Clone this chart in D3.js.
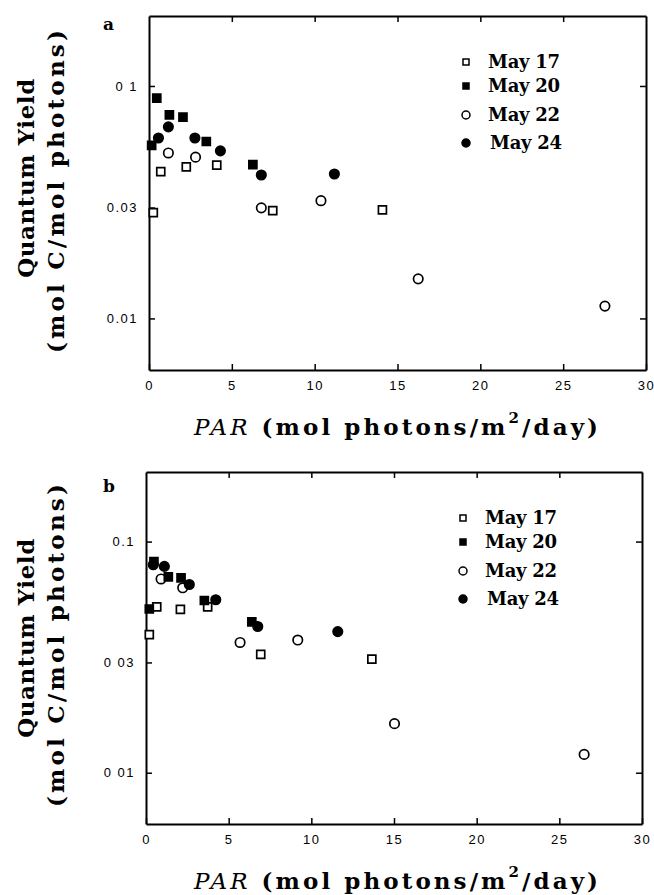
<!DOCTYPE html>
<html lang="en">
  <head>
    <meta charset="UTF-8" />
    <title>Quantum Yield vs PAR</title>
  </head>
  <style type="text/css">
    body {
      margin: 0;
      background: #fff;
    }
    .tick text {
      font-family: 'Liberation Sans', Arial, sans-serif;
      font-size: 13px;
      letter-spacing: 1.5px;
      fill: #000;
    }
    .serif {
      font-family: 'DejaVu Serif', serif;
      font-weight: bold;
      fill: #000;
    }
  </style>

  <script src="https://d3js.org/d3.v7.min.js"></script>

  <body>
    <div class="d3Chart"></div>
  </body>
  <script type="text/javascript">
    // 数据
    var dates = ['May 17', 'May 20', 'May 22', 'May 24']
    var xTicks = [0, 5, 10, 15, 20, 25, 30]
    var yTicks = [0.1, 0.03, 0.01]
    var yTickLabelsA = ['0 1', '0.03', '0.01']
    var yTickLabelsB = ['0.1', '0 03', '0 01']

    // panel a
    var may17A_par = [0.26, 0.71, 2.25, 4.09, 7.47, 14.09]
    var may17A_qy = [0.0285, 0.0428, 0.0449, 0.0457, 0.0291, 0.0293]
    var may20A_par = [0.16, 0.47, 1.23, 2.05, 3.46, 6.27]
    var may20A_qy = [0.0555, 0.0886, 0.0751, 0.0734, 0.0577, 0.0459]
    var may22A_par = [1.17, 2.81, 6.78, 10.38, 16.25, 27.52]
    var may22A_qy = [0.0515, 0.0494, 0.0299, 0.0321, 0.0148, 0.0113]
    var may24A_par = [0.57, 1.17, 2.77, 4.31, 6.78, 11.19]
    var may24A_qy = [0.0597, 0.0667, 0.0597, 0.0526, 0.0414, 0.0418]

    // panel b
    var may17B_par = [0.2, 0.65, 2.08, 3.73, 6.94, 13.66]
    var may17B_qy = [0.0396, 0.0522, 0.0509, 0.0522, 0.0325, 0.031]
    var may20B_par = [0.2, 0.48, 1.35, 2.12, 3.53, 6.4]
    var may20B_qy = [0.0511, 0.082, 0.0703, 0.0696, 0.0556, 0.0449]
    var may22B_par = [0.91, 2.22, 5.69, 9.18, 15.03, 26.5]
    var may22B_qy = [0.0689, 0.0631, 0.0366, 0.0375, 0.0163, 0.012]
    var may24B_par = [0.44, 1.11, 2.62, 4.22, 6.76, 11.6]
    var may24B_qy = [0.0794, 0.0781, 0.0652, 0.056, 0.0429, 0.0408]

    // marker style per date: [symbol, filled]
    var markers = [
      [d3.symbolSquare, false],
      [d3.symbolSquare, true],
      [d3.symbolCircle, false],
      [d3.symbolCircle, true]
    ]
    var drawOrder = [0, 2, 1, 3]

    var width = 654
    var height = 895
    var svg = d3.select('.d3Chart').append('svg').attr('width', width).attr('height', height)

    // stretch text to a given width with letter-spacing
    function fit(text, w) {
      var node = text.node()
      var len = node.getComputedTextLength()
      var n = node.textContent.length
      text.attr('letter-spacing', (w - len) / (n - 1))
    }

    function drawPanel(p) {
      var x = d3.scaleLinear().domain([0, 30]).range([p.left, p.right])
      var y = d3.scaleLog().domain([0.006, 0.2]).range([p.bottom, p.top])
      var g = svg.append('g')

      // 坐标轴
      var axB = g
        .append('g')
        .attr('transform', 'translate(0,' + p.bottom + ')')
        .call(d3.axisBottom(x).tickValues(xTicks).tickSize(-6).tickSizeOuter(0).tickPadding(11))
      var axT = g
        .append('g')
        .attr('transform', 'translate(0,' + p.top + ')')
        .call(d3.axisTop(x).tickValues(xTicks.slice(1, -1)).tickSize(-6).tickSizeOuter(0).tickFormat(''))
      var axL = g
        .append('g')
        .attr('transform', 'translate(' + p.left + ',0)')
        .call(
          d3
            .axisLeft(y)
            .tickValues(yTicks)
            .tickSize(-6)
            .tickSizeOuter(0)
            .tickPadding(11)
            .tickFormat((d, i) => p.yLabels[i])
        )
      var axR = g
        .append('g')
        .attr('transform', 'translate(' + p.right + ',0)')
        .call(d3.axisRight(y).tickValues([0.1, 0.01]).tickSize(-6).tickSizeOuter(0).tickFormat(''))

      ;[axB, axT, axL, axR].forEach(function (a) {
        a.select('.domain').attr('stroke', '#000').attr('stroke-width', 2)
        a.selectAll('.tick line').attr('stroke', '#000').attr('stroke-width', 1.5)
      })

      // 散点
      drawOrder.forEach(function (k) {
        var s = p.series[k]
        var pts = s.par.map((v, i) => [v, s.qy[i]])
        var m = markers[k]
        var size = m[0] === d3.symbolSquare ? 64 : 70
        g.append('g')
          .selectAll('path')
          .data(pts)
          .enter()
          .append('path')
          .attr('transform', (d) => 'translate(' + x(d[0]) + ',' + y(d[1]) + ')')
          .attr('d', d3.symbol().type(m[0]).size(size))
          .attr('fill', m[1] ? '#000' : '#fff')
          .attr('stroke', '#000')
          .attr('stroke-width', 1.7)
      })

      // 图例
      var rowOff = [46, 70, 99, 127]
      dates.forEach(function (name, k) {
        var m = markers[k]
        var cy = p.top + rowOff[k]
        g.append('path')
          .attr('transform', 'translate(' + (p.left + 317) + ',' + cy + ')')
          .attr('d', d3.symbol().type(m[0]).size(m[0] === d3.symbolSquare ? 36 : 50))
          .attr('fill', m[1] ? '#000' : '#fff')
          .attr('stroke', '#000')
          .attr('stroke-width', 1.5)
        var t = g
          .append('text')
          .attr('class', 'serif')
          .attr('x', p.left + 339 + (k === 3 ? 2 : 0))
          .attr('y', cy + 6)
          .style('font-size', '18px')
          .text(name)
        fit(t, 72)
      })

      // 面板字母
      g.append('text')
        .attr('class', 'serif')
        .attr('x', 103)
        .attr('y', p.top + p.letterDy)
        .style('font-size', '17px')
        .text(p.letter)

      // y 标题
      var t1 = g
        .append('text')
        .attr('class', 'serif')
        .attr('text-anchor', 'middle')
        .attr('transform', 'translate(34,' + p.qyMid + ') rotate(-90)')
        .style('font-size', '23px')
        .text('Quantum Yield')
      fit(t1, 199)
      var t2 = g
        .append('text')
        .attr('class', 'serif')
        .attr('text-anchor', 'middle')
        .attr('transform', 'translate(64,' + p.molMid + ') rotate(-90)')
        .style('font-size', '23px')
        .text('(mol C/mol photons)')
      fit(t2, 323)

      // x 标题
      var xt = g
        .append('text')
        .attr('class', 'serif')
        .attr('x', 194)
        .attr('y', p.bottom + 65)
        .style('font-size', '23px')
      xt.append('tspan').style('font-style', 'italic').style('font-weight', 'normal').text('PAR')
      xt.append('tspan').text(' (mol photons/m')
      xt.append('tspan').attr('dy', -12).style('font-size', '15px').text('2')
      xt.append('tspan').attr('dy', 12).text('/day)')
      fit(xt, 404)
    }

    drawPanel({
      left: 149,
      right: 646,
      top: 16,
      bottom: 370,
      letter: 'a',
      letterDy: 14,
      qyMid: 178,
      molMid: 190,
      yLabels: yTickLabelsA,
      series: [
        { par: may17A_par, qy: may17A_qy },
        { par: may20A_par, qy: may20A_qy },
        { par: may22A_par, qy: may22A_qy },
        { par: may24A_par, qy: may24A_qy }
      ]
    })

    drawPanel({
      left: 146,
      right: 642,
      top: 472,
      bottom: 824,
      letter: 'b',
      letterDy: 20,
      qyMid: 638,
      molMid: 644,
      yLabels: yTickLabelsB,
      series: [
        { par: may17B_par, qy: may17B_qy },
        { par: may20B_par, qy: may20B_qy },
        { par: may22B_par, qy: may22B_qy },
        { par: may24B_par, qy: may24B_qy }
      ]
    })
  </script>
</html>
